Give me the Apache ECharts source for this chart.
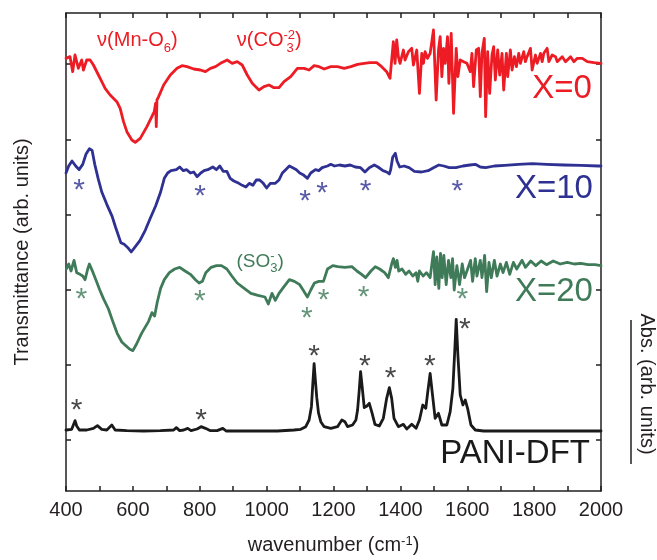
<!DOCTYPE html>
<html><head><meta charset="utf-8">
<script src="https://cdn.jsdelivr.net/npm/echarts@6/dist/echarts.min.js"></script>
<style>html,body{margin:0;padding:0;background:#fff}#c{width:657px;height:560px}</style>
</head><body><div id="c"></div>
<script>
const FONT = "'Liberation Sans', Arial, sans-serif";
const xTickLabels = [400, 600, 800, 1000, 1200, 1400, 1600, 1800, 2000];
const yTickValues = [153, 378, 604, 830, 1055, 1281];

// [wavenumber, transmittance (arb. offset units)]
const specX0 = [[400,1298],[412,1303],[420,1258],[427,1308],[437,1268],[447,1293],[452,1263],[462,1293],[472,1293],[482,1278],[497,1248],[507,1228],[517,1208],[532,1188],[552,1168],[562,1148],[572,1108],[582,1078],[597,1053],[607,1046],[622,1058],[642,1093],[664,1138],[668,1163],[670,1093],[672,1173],[677,1183],[692,1218],[712,1248],[732,1268],[747,1276],[762,1273],[782,1266],[802,1263],[817,1258],[832,1268],[847,1273],[862,1283],[882,1293],[897,1283],[912,1288],[927,1278],[942,1248],[957,1223],[977,1203],[992,1213],[1007,1218],[1022,1210],[1037,1210],[1052,1228],[1072,1243],[1092,1268],[1112,1268],[1127,1263],[1142,1276],[1157,1273],[1172,1266],[1192,1273],[1212,1273],[1232,1268],[1252,1273],[1272,1280],[1292,1283],[1309,1285],[1329,1285],[1344,1273],[1359,1258],[1369,1238],[1374,1233],[1379,1348],[1384,1283],[1389,1353],[1394,1303],[1399,1283],[1409,1323],[1414,1293],[1424,1318],[1434,1328],[1439,1278],[1449,1323],[1457,1193],[1464,1313],[1469,1283],[1474,1318],[1481,1298],[1489,1313],[1499,1383],[1507,1173],[1514,1323],[1519,1363],[1524,1243],[1529,1328],[1534,1283],[1541,1363],[1545,1223],[1552,1373],[1559,1133],[1567,1328],[1572,1243],[1579,1293],[1589,1288],[1599,1283],[1609,1258],[1614,1313],[1619,1213],[1627,1323],[1634,1328],[1639,1183],[1644,1313],[1651,1358],[1655,1123],[1661,1318],[1667,1193],[1674,1308],[1679,1333],[1684,1233],[1691,1323],[1697,1248],[1704,1313],[1709,1203],[1717,1313],[1721,1243],[1729,1323],[1734,1263],[1741,1303],[1747,1273],[1754,1313],[1759,1283],[1769,1318],[1774,1288],[1779,1303],[1789,1328],[1794,1263],[1804,1308],[1809,1283],[1819,1313],[1824,1288],[1829,1313],[1839,1328],[1844,1288],[1854,1308],[1864,1303],[1869,1288],[1884,1303],[1894,1288],[1909,1303],[1919,1288],[1929,1298],[1944,1298],[1959,1288],[1979,1285],[2000,1283]];

const specX10 = [[400,954],[408,975],[418,990],[429,975],[439,964],[450,980],[460,1011],[470,1027],[478,1022],[486,980],[496,938],[507,897],[522,860],[538,824],[548,792],[564,745],[574,740],[585,730],[595,717],[605,730],[621,751],[637,782],[652,818],[668,855],[683,897],[694,938],[704,954],[714,961],[730,964],[740,972],[751,961],[761,964],[772,954],[782,957],[792,943],[803,954],[813,961],[824,964],[839,972],[850,964],[860,975],[870,959],[881,959],[891,938],[902,930],[917,923],[927,917],[938,912],[948,923],[959,917],[969,933],[979,933],[990,923],[1000,909],[1011,923],[1026,923],[1037,933],[1047,954],[1057,964],[1068,975],[1078,970],[1089,964],[1099,954],[1109,949],[1122,938],[1132,954],[1146,964],[1156,961],[1166,970],[1182,975],[1192,980],[1203,975],[1218,978],[1234,975],[1250,978],[1265,972],[1281,970],[1294,957],[1307,970],[1322,978],[1333,972],[1348,961],[1359,957],[1367,951],[1371,964],[1377,1001],[1385,1013],[1390,990],[1398,972],[1411,975],[1426,970],[1442,959],[1463,957],[1483,961],[1499,970],[1515,978],[1530,975],[1546,970],[1566,970],[1587,975],[1608,978],[1624,980],[1639,972],[1655,970],[1681,975],[1712,977],[1753,980],[1795,982],[1837,980],[1889,978],[1940,977],[1992,975],[2000,975]];

const specX20 = [[401,666],[408,681],[415,660],[424,692],[432,655],[442,650],[450,645],[457,634],[465,666],[470,681],[481,655],[491,629],[501,603],[512,577],[527,546],[538,514],[553,473],[567,447],[579,436],[590,426],[600,421],[611,441],[626,473],[647,509],[657,535],[665,525],[673,567],[683,608],[694,634],[709,655],[725,666],[740,671],[756,660],[772,650],[787,634],[798,624],[808,629],[818,655],[834,671],[850,676],[865,676],[881,666],[896,645],[912,624],[933,608],[953,593],[974,587],[995,582],[1005,561],[1016,593],[1026,572],[1037,593],[1052,613],[1068,634],[1083,629],[1099,619],[1109,603],[1122,582],[1132,603],[1143,624],[1156,629],[1170,629],[1182,666],[1198,676],[1213,673],[1234,671],[1255,673],[1270,660],[1284,650],[1296,640],[1312,660],[1325,673],[1338,666],[1353,655],[1364,640],[1369,634],[1374,681],[1379,697],[1385,671],[1390,692],[1395,660],[1405,666],[1416,650],[1426,660],[1437,645],[1447,655],[1452,629],[1457,660],[1468,645],[1478,655],[1489,640],[1499,718],[1504,619],[1509,702],[1515,608],[1520,713],[1525,640],[1530,707],[1537,619],[1544,692],[1551,640],[1556,697],[1561,603],[1569,676],[1577,619],[1585,681],[1592,640],[1603,671],[1610,692],[1616,629],[1624,697],[1629,645],[1639,692],[1644,640],[1652,707],[1658,598],[1665,686],[1672,640],[1681,692],[1689,645],[1699,681],[1707,655],[1717,686],[1727,650],[1738,686],[1748,666],[1764,692],[1774,671],[1790,690],[1805,676],[1821,690],[1837,679],[1857,690],[1878,681],[1899,686],[1920,681],[1940,683],[1961,679],[1982,679],[2000,676]];

const specPANI = [[400,183],[417,185],[422,198],[427,211],[432,195],[440,183],[462,183],[482,188],[494,196],[507,185],[522,183],[537,198],[547,183],[582,181],[632,180],[682,181],[722,183],[730,190],[740,181],[752,183],[764,188],[774,181],[792,186],[804,193],[817,188],[832,181],[852,181],[869,188],[879,180],[922,180],[982,180],[1032,180],[1082,183],[1102,185],[1117,193],[1127,213],[1134,253],[1138,320],[1142,382],[1146,330],[1150,280],[1155,235],[1162,208],[1172,193],[1192,188],[1212,193],[1225,213],[1234,208],[1242,193],[1257,198],[1267,213],[1272,243],[1277,303],[1281,358],[1285,320],[1292,250],[1300,255],[1307,263],[1315,235],[1324,200],[1337,195],[1349,218],[1359,278],[1367,310],[1374,278],[1381,218],[1394,193],[1409,200],[1419,186],[1434,200],[1447,188],[1457,213],[1467,258],[1476,248],[1482,298],[1489,353],[1495,298],[1504,218],[1514,233],[1524,198],[1539,198],[1549,238],[1557,308],[1562,408],[1567,515],[1572,408],[1579,288],[1587,258],[1594,273],[1601,248],[1611,198],[1624,183],[1649,180],[1739,180],[1839,180],[2000,180]];

const starsX10 = [[439,923],[801,905],[1115,888],[1166,912],[1296,919],[1570,919]];
const starsX20 = [[446,595],[800,589],[1120,537],[1170,591],[1290,601],[1585,596]];
const starsPANI = [[432,263],[804,233],[1142,423],[1294,393],[1371,358],[1488,393],[1593,505]];

const RED = '#ED1C24', BLUE = '#2E3192', GREEN = '#3F7B58', BLACK = '#1a1a1a', AX = '#231f20';

const chart = echarts.init(document.getElementById('c'), null, {renderer: 'canvas'});

function lineSeries(name, data, color) {
  return {name, type: 'line', data, symbol: 'none', showSymbol: false, silent: true,
    lineStyle: {width: 2.8, color, join: 'round', cap: 'round'}, itemStyle: {color}, animation: false};
}
function starSeries(data, color) {
  return {type: 'scatter', data, symbolSize: 1, silent: true, itemStyle: {color: 'rgba(0,0,0,0)'},
    label: {show: true, formatter: '*', position: 'inside', fontSize: 30, fontFamily: FONT, color, offset: [0, 7]},
    animation: false, z: 5};
}
const tickStyle = {inside: true, length: 5, lineStyle: {color: AX, width: 1.5}};
const lineAx = {show: true, onZero: false, lineStyle: {color: AX, width: 1.5}};

chart.setOption({
  animation: false,
  backgroundColor: '#fff',
  grid: {left: 66, right: 56, top: 13, bottom: 69, containLabel: false},
  xAxis: [
    {type: 'value', min: 400, max: 2000, interval: 100, position: 'bottom',
      axisLine: lineAx, axisTick: tickStyle, splitLine: {show: false},
      axisLabel: {formatter: v => xTickLabels.indexOf(Math.round(v)) >= 0 ? String(Math.round(v)) : '',
        fontSize: 20, color: AX, fontFamily: FONT, margin: 9},
      name: 'wavenumber (cm{sup|-1})', nameLocation: 'middle', nameGap: 44,
      nameTextStyle: {fontSize: 20, color: AX, fontFamily: FONT,
        rich: {sup: {fontSize: 13, color: AX, fontFamily: FONT, verticalAlign: 'top', lineHeight: 12}}}},
    {type: 'value', min: 400, max: 2000, interval: 100, position: 'top',
      axisLine: lineAx, axisTick: tickStyle, splitLine: {show: false}, axisLabel: {show: false}}
  ],
  yAxis: [
    {type: 'value', min: 0, max: 1434, position: 'left',
      axisLine: lineAx, axisTick: Object.assign({customValues: yTickValues}, tickStyle),
      axisLabel: {show: false}, splitLine: {show: false},
      name: 'Transmittance (arb. units)', nameLocation: 'middle', nameGap: 34, nameRotate: 90,
      nameTextStyle: {fontSize: 20, color: AX, fontFamily: FONT}},
    {type: 'value', min: 0, max: 1434, position: 'right',
      axisLine: lineAx, axisTick: Object.assign({customValues: yTickValues}, tickStyle),
      axisLabel: {show: false}, splitLine: {show: false}}
  ],
  series: [
    lineSeries('X=0', specX0, RED),
    lineSeries('X=10', specX10, BLUE),
    lineSeries('X=20', specX20, GREEN),
    lineSeries('PANI-DFT', specPANI, BLACK),
    starSeries(starsX10, BLUE),
    starSeries(starsX20, GREEN),
    starSeries(starsPANI, BLACK)
  ]
});

// annotation text placed from data anchors
const mctx = document.createElement('canvas').getContext('2d');
function tw(t, fs) { mctx.font = fs + 'px ' + FONT; return mctx.measureText(t).width; }
function textEl(x, baseline, t, fs, color, align) {
  return {type: 'text', x: x, y: baseline - 0.35 * fs, silent: true, z: 10,
    style: {text: t, font: fs + 'px ' + FONT, fontSize: fs, fontFamily: FONT, fill: color,
      align: align || 'left', textAlign: align || 'left', verticalAlign: 'middle', textVerticalAlign: 'middle'}};
}
function runText(anchor, parts, color) {
  const p = chart.convertToPixel({gridIndex: 0}, anchor);
  const els = [];
  let x = p[0];
  for (const r of parts) {
    els.push(textEl(x + (r.dx || 0), p[1] + (r.dy || 0), r.t, r.fs, color, 'left'));
    x += (r.adv !== undefined ? r.adv : tw(r.t, r.fs));
  }
  return els;
}
function rightText(anchor, t, fs, color) {
  const p = chart.convertToPixel({gridIndex: 0}, anchor);
  return textEl(p[0], p[1], t, fs, color, 'right');
}

let g = [];
g = g.concat(runText([493, 1332], [{t: 'ν(Mn-O', fs: 20}, {t: '6', fs: 13, dy: 5.5}, {t: ')', fs: 20}], RED));
g = g.concat(runText([911, 1332], [{t: 'ν(CO', fs: 20}, {t: '-2', fs: 13, dy: -7, adv: 0},
  {t: '3', fs: 13, dy: 6, dx: 3, adv: tw('-2', 13)}, {t: ')', fs: 20}], RED));
g = g.concat(runText([910, 669], [{t: '(SO', fs: 19}, {t: '-', fs: 13, dy: -7, adv: 0},
  {t: '3', fs: 13, dy: 5, adv: tw('3', 13)}, {t: ')', fs: 19}], GREEN));
g.push(rightText([1973, 1173], 'X=0', 33, RED));
g.push(rightText([1976, 873], 'X=10', 33, BLUE));
g.push(rightText([1976, 564], 'X=20', 33, GREEN));
g.push(rightText([1967, 78], 'PANI-DFT', 33, BLACK));
// right-hand absorbance scale bar and its label
g.push({type: 'line', silent: true, shape: {x1: 631, y1: 320, x2: 631, y2: 464}, style: {stroke: AX, lineWidth: 1.5}});
g.push({type: 'text', x: 647, y: 384, rotation: -Math.PI / 2, silent: true,
  style: {text: 'Abs. (arb. units)', font: '20px ' + FONT, fill: AX, align: 'center', textAlign: 'center', verticalAlign: 'middle', textVerticalAlign: 'middle'}});

chart.setOption({graphic: g});
</script>
</body></html>
